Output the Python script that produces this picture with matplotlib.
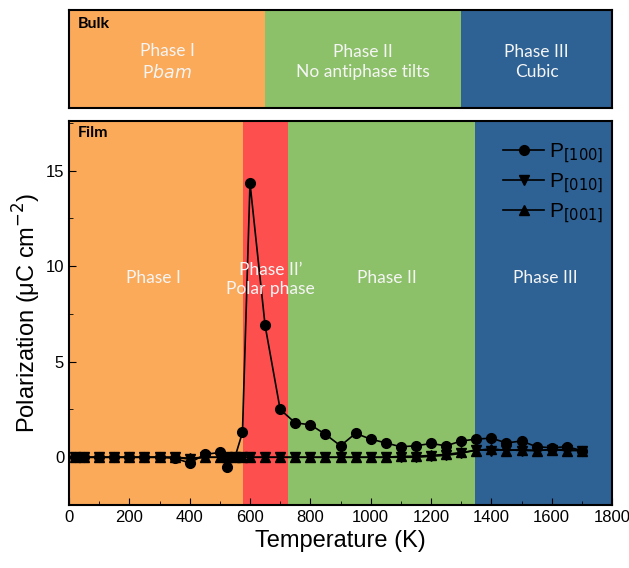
import matplotlib.pyplot as plt
from matplotlib.ticker import MultipleLocator

# temperatures (K)
T = [20, 50, 100, 150, 200, 250, 300, 350, 400, 450, 500, 525, 550, 575, 600,
     650, 700, 750, 800, 850, 900, 950, 1000, 1050, 1100, 1150, 1200, 1250,
     1300, 1350, 1400, 1450, 1500, 1550, 1600, 1650, 1700]

p100 = [0.0, 0.0, 0.0, 0.0, 0.0, 0.0, 0.0, -0.05, -0.3, 0.15, 0.25, -0.5, 0.0,
        1.3, 14.35, 6.9, 2.5, 1.8, 1.7, 1.2, 0.6, 1.25, 0.95, 0.75, 0.55, 0.6,
        0.72, 0.6, 0.85, 0.95, 1.0, 0.75, 0.85, 0.55, 0.5, 0.55, 0.35]
p010 = [0.0, 0.0, 0.0, 0.0, 0.0, 0.0, 0.0, 0.0, -0.1, 0.0, 0.0, 0.0, 0.0,
        0.0, 0.0, 0.0, 0.0, 0.0, 0.0, 0.0, 0.0, 0.0, 0.0, 0.0, 0.0, 0.0,
        0.05, 0.1, 0.2, 0.4, 0.35, 0.4, 0.35, 0.35, 0.4, 0.4, 0.35]
p001 = [0.0, 0.0, 0.0, 0.0, 0.0, 0.0, 0.0, 0.0, -0.05, 0.0, 0.0, 0.0, 0.0,
        0.0, 0.0, 0.0, 0.0, 0.0, 0.0, 0.0, 0.0, 0.0, 0.0, 0.0, 0.05, 0.05,
        0.1, 0.15, 0.25, 0.35, 0.45, 0.35, 0.4, 0.35, 0.4, 0.35, 0.35]

# phase regions
bulk_edges = [0, 650, 1300, 1800]
bulk_labels = ['Phase I\nP$\\it{bam}$', 'Phase II\nNo antiphase tilts', 'Phase III\nCubic']
film_edges = [0, 577, 726, 1346, 1800]
film_labels = ['Phase I', 'Phase II\u2019\nPolar phase', 'Phase II', 'Phase III']
film_label_x = [280, 668, 1055, 1580]

orange = '#FBAA5A'
green = '#8DC169'
blue = '#2E6194'
red = '#FE4F4F'
bulk_colors = [orange, green, blue]
film_colors = [orange, red, green, blue]

plt.rcParams['font.family'] = ['Liberation Sans', 'DejaVu Sans']
lab_font = ['Lato', 'DejaVu Sans']

fig = plt.figure(figsize=(6.29, 5.68), dpi=100)

# bulk strip
axb = fig.add_axes([0.1097, 0.8099, 0.8633, 0.1725])
for i in range(3):
    axb.axvspan(bulk_edges[i], bulk_edges[i + 1], color=bulk_colors[i], lw=0)
    axb.text((bulk_edges[i] + bulk_edges[i + 1]) / 2, 0.47, bulk_labels[i],
             color='#F5F5F5', ha='center', va='center', fontsize=12.5,
             family=lab_font, linespacing=1.25, transform=axb.get_xaxis_transform())
axb.text(30, 0.93, 'Bulk', fontweight='bold', fontsize=11.5, family=lab_font,
         va='top', transform=axb.get_xaxis_transform())
axb.set_xlim(0, 1800)
axb.set_ylim(0, 1)
axb.set_xticks([])
axb.set_yticks([])
for s in axb.spines.values():
    s.set_linewidth(1.5)

# film panel
ax = fig.add_axes([0.1097, 0.1109, 0.8633, 0.676])
for i in range(4):
    ax.axvspan(film_edges[i], film_edges[i + 1], color=film_colors[i], lw=0)
ax.text(film_label_x[0], 9.4, film_labels[0], color='#F5F5F5', ha='center', va='center',
        fontsize=12.5, family=lab_font)
ax.text(film_label_x[1], 9.3, film_labels[1], color='#F5F5F5', ha='center', va='center',
        fontsize=12.5, family=lab_font, linespacing=1.2)
ax.text(film_label_x[2], 9.4, film_labels[2], color='#F5F5F5', ha='center', va='center',
        fontsize=12.5, family=lab_font)
ax.text(film_label_x[3], 9.4, film_labels[3], color='#F5F5F5', ha='center', va='center',
        fontsize=12.5, family=lab_font)
ax.text(30, 17.35, 'Film', fontweight='bold', fontsize=11.5, family=lab_font, va='top')

ax.plot(T, p100, 'k-', marker='o', ms=7, lw=1.2, label='P$_{[100]}$')
ax.plot(T, p010, 'k-', marker='v', ms=7, lw=1.2, label='P$_{[010]}$')
ax.plot(T, p001, 'k-', marker='^', ms=7, lw=1.2, label='P$_{[001]}$')

ax.set_xlim(0, 1800)
ax.set_ylim(-2.5, 17.6)
ax.xaxis.set_major_locator(MultipleLocator(200))
ax.xaxis.set_minor_locator(MultipleLocator(100))
ax.yaxis.set_major_locator(MultipleLocator(5))
ax.yaxis.set_minor_locator(MultipleLocator(2.5))
ax.tick_params(which='both', direction='in', labelsize=12)
ax.tick_params(which='major', length=5)
ax.tick_params(which='minor', length=3)
ax.set_xlabel('Temperature (K)', fontsize=17, labelpad=4)
ax.set_ylabel('Polarization (\u03bcC cm$^{-2}$)', fontsize=17, labelpad=2)
for s in ax.spines.values():
    s.set_linewidth(1.5)

leg = ax.legend(loc='upper right', bbox_to_anchor=(1.01, 0.985), frameon=False,
                fontsize=15, handlelength=2.0, handletextpad=0.2,
                labelspacing=0.28, borderaxespad=0.3)

fig.savefig('out.png', dpi=100)
